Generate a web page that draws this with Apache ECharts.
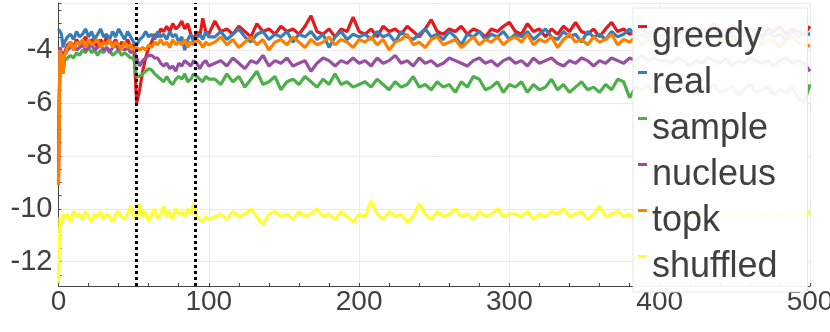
<!DOCTYPE html>
<html>
<head>
<meta charset="utf-8">
<script src="https://cdn.jsdelivr.net/npm/echarts@6/dist/echarts.min.js"></script>
<style>
  html, body { margin: 0; padding: 0; background: #fff; }
  #chart { width: 830px; height: 332px; }
</style>
</head>
<body>
<div id="chart"></div>
<script>
// x positions: 0..3, then every 2 up to 100, then every 4 up to 500
const steps = [0, 1, 2, 3]
for (let s = 4; s <= 100; s += 2) steps.push(s)
for (let s = 104; s <= 500; s += 4) steps.push(s)

const names = ['greedy', 'real', 'sample', 'nucleus', 'topk', 'shuffled']
const colors = ['#e41a1c', '#377eb8', '#4daf4a', '#984ea3', '#ff7f00', '#ffff33']
const markers = [52, 91]

const greedy = [
  -9.0, -3.9, -4.3, -4.8,
  -4.1, -3.8, -3.7, -3.9, -3.6, -3.8, -3.7, -3.5, -3.8, -3.6, -3.7, -3.9, -3.6, -3.8, -3.5, -3.7, -3.8, -3.6, -3.9, -3.7, -3.8, -3.6, -3.9, -3.8,
  -6.0, -5.5, -4.8, -4.3, -3.9, -3.7, -3.4, -3.5, -3.2, -3.3, -3.1, -3.3, -3.0, -3.2, -3.1, -2.9, -3.2, -3.0, -3.4, -3.6, -3.3, -3.5, -2.8, -3.3, -3.4,
  -2.9, -3.3, -3.2, -3.4, -3.1, -3.3, -3.5, -3.0, -3.3, -3.2, -3.4, -3.1, -3.3, -3.2, -3.4, -3.1, -2.7, -3.3, -3.4, -3.2, -3.5, -3.2, -3.3, -2.75, -3.3,
  -3.4, -3.2, -3.5, -3.1, -3.3, -3.2, -3.4, -3.1, -3.3, -3.5, -3.2, -2.85, -3.3, -3.4, -3.2, -3.3, -3.1, -3.4, -3.2, -3.3, -3.5, -3.2, -3.3, -3.1, -2.95,
  -3.3, -3.4, -3.0, -3.3, -3.2, -3.5, -3.2, -3.4, -3.1, -3.3, -2.95, -3.3, -3.4, -3.2, -3.5, -3.2, -2.95, -3.3, -3.2, -3.4, -3.3, -3.2, -3.4, -3.3, -3.2,
  -3.3, -3.1, -3.4, -3.2, -3.3, -3.5, -3.2, -3.3, -3.0, -3.4, -3.2, -3.3, -3.1, -3.4, -3.2, -3.3, -3.5, -3.2, -3.3, -3.1, -3.4, -3.2, -3.3, -3.4, -3.1
]
const real = [
  -3.2, -3.2, -3.4, -3.9,
  -3.7, -3.5, -3.4, -3.6, -3.3, -3.5, -3.4, -3.2, -3.5, -3.3, -3.6, -3.4, -3.2, -3.5, -3.4, -3.6, -3.3, -3.5, -3.2, -3.4, -3.6, -3.3, -3.5, -3.7,
  -3.8, -3.6, -3.5, -3.3, -3.5, -3.4, -3.6, -3.3, -3.5, -3.4, -3.6, -3.3, -3.5, -3.4, -3.7, -3.5, -4.0, -3.6, -3.4, -3.7, -3.5, -3.4, -3.6, -3.3, -3.5,
  -3.5, -3.3, -3.6, -3.4, -3.2, -3.5, -3.7, -3.4, -3.3, -3.6, -3.4, -3.5, -3.3, -3.7, -3.4, -3.5, -3.3, -3.6, -3.4, -3.9, -3.5, -3.3, -3.6, -3.4, -3.5,
  -3.4, -3.6, -3.3, -3.5, -3.4, -3.7, -3.3, -3.5, -3.6, -3.4, -3.2, -3.5, -3.4, -3.6, -3.3, -3.5, -3.8, -3.4, -3.5, -3.3, -3.6, -3.4, -3.5, -3.3, -3.6,
  -3.4, -3.5, -3.3, -3.6, -3.4, -3.2, -3.5, -3.6, -3.3, -3.5, -3.4, -3.7, -3.3, -3.5, -3.4, -3.6, -3.3, -3.5, -3.4, -3.2, -3.5, -3.4, -3.6, -3.3, -3.5,
  -3.4, -3.6, -3.3, -3.5, -3.4, -3.2, -3.5, -3.6, -3.4, -3.3, -3.5, -3.4, -3.7, -3.3, -3.5, -3.4, -3.6, -3.3, -3.5, -3.4, -3.6, -3.3, -3.5, -3.4, -3.4
]
const sample = [
  -7.6, -4.2, -4.5, -4.9,
  -4.4, -4.3, -4.2, -4.3, -4.1, -4.2, -4.0, -4.1, -3.9, -4.1, -4.0, -4.2, -4.0, -4.1, -3.9, -4.0, -4.2, -4.1, -4.0, -4.2, -4.1, -4.2, -4.3, -4.3,
  -5.0, -5.0, -4.9, -4.8, -4.7, -4.75, -4.9, -5.0, -5.1, -5.2, -5.0, -5.2, -5.3, -5.1, -5.0, -5.1, -4.9, -5.2, -5.1, -4.9, -5.0, -5.1, -5.2, -5.0, -5.1,
  -5.1, -5.3, -4.9, -5.2, -5.0, -5.4, -5.1, -4.8, -5.3, -5.2, -5.0, -5.5, -5.2, -5.1, -5.3, -5.0, -5.2, -5.4, -5.1, -5.3, -4.9, -5.3, -5.2, -5.4, -5.3,
  -5.2, -5.4, -5.1, -5.3, -5.5, -5.2, -5.4, -5.3, -5.0, -5.4, -5.3, -5.5, -5.2, -5.4, -5.3, -5.6, -5.2, -5.4, -5.0, -5.1, -5.5, -5.4, -5.2, -5.6, -5.3,
  -5.4, -5.2, -5.6, -5.3, -5.5, -5.4, -5.1, -5.5, -5.3, -5.6, -5.4, -5.2, -5.5, -5.4, -5.6, -5.3, -5.5, -5.1, -5.2, -5.8, -5.4, -5.5, -5.3, -5.7, -5.4,
  -5.5, -5.3, -5.6, -5.4, -5.5, -5.7, -5.4, -5.5, -5.3, -5.6, -5.5, -5.4, -5.7, -5.5, -5.3, -5.6, -5.5, -5.4, -5.7, -5.5, -5.6, -5.4, -5.8, -6.0, -5.3
]
const nucleus = [
  -8.2, -3.9, -4.1, -4.8,
  -4.2, -4.0, -3.9, -3.8, -4.0, -3.9, -3.8, -4.0, -3.9, -3.8, -4.0, -3.9, -3.8, -4.0, -3.9, -4.1, -3.9, -3.8, -4.0, -3.9, -4.0, -3.9, -4.1, -4.0,
  -4.3, -4.6, -4.4, -4.3, -4.2, -4.2, -4.3, -4.3, -4.5, -4.6, -4.5, -4.7, -4.6, -4.8, -4.5, -4.6, -4.4, -4.5, -4.6, -4.4, -4.5, -4.7, -4.5, -4.4, -4.6,
  -4.5, -4.4, -4.6, -4.3, -4.5, -4.7, -4.4, -4.5, -4.2, -4.6, -4.4, -4.5, -4.3, -4.6, -4.5, -4.4, -4.8, -4.5, -4.3, -4.4, -4.6, -4.4, -4.5, -4.3, -4.5,
  -4.4, -4.6, -4.3, -4.5, -4.4, -4.2, -4.5, -4.4, -4.6, -4.3, -4.5, -4.4, -4.6, -4.5, -4.3, -4.4, -4.5, -4.6, -4.4, -4.3, -4.5, -4.4, -4.6, -4.4, -4.3,
  -4.5, -4.4, -4.6, -4.3, -4.5, -4.4, -4.3, -4.5, -4.6, -4.4, -4.5, -4.3, -4.4, -4.6, -4.4, -4.5, -4.3, -4.4, -4.5, -4.3, -4.4, -4.2, -4.4, -4.3, -4.4,
  -4.4, -4.5, -4.3, -4.4, -4.6, -4.4, -4.5, -4.3, -4.4, -4.5, -4.3, -4.6, -4.4, -4.5, -4.3, -4.4, -4.5, -4.4, -4.6, -4.4, -4.3, -4.5, -4.4, -4.5, -4.8
]
const topk = [
  -9.1, -4.0, -4.3, -4.9,
  -4.2, -3.9, -3.7, -4.0, -3.7, -3.8, -3.6, -3.9, -3.6, -3.8, -3.7, -3.6, -3.9, -3.7, -3.8, -3.6, -3.9, -3.7, -3.8, -4.0, -3.7, -3.9, -3.8, -4.0,
  -3.9, -4.0, -3.9, -4.0, -3.8, -3.9, -3.7, -3.8, -3.6, -3.8, -3.7, -3.9, -3.6, -3.8, -3.7, -3.8, -3.6, -3.9, -3.7, -3.8, -3.6, -3.7, -3.9, -3.7, -3.8,
  -3.7, -3.5, -3.8, -3.6, -3.9, -3.7, -3.5, -3.8, -3.6, -4.0, -3.7, -3.6, -3.8, -3.5, -3.7, -3.9, -3.6, -3.8, -3.7, -3.5, -3.8, -3.6, -3.7, -3.9, -3.6,
  -3.7, -3.5, -3.8, -3.6, -4.0, -3.7, -3.6, -3.4, -3.8, -3.7, -3.9, -3.6, -3.5, -3.8, -3.7, -3.6, -3.9, -3.7, -3.5, -3.8, -3.6, -3.7, -3.5, -3.8, -3.6,
  -3.5, -3.7, -3.4, -3.8, -3.6, -3.7, -3.5, -3.9, -3.6, -3.4, -3.7, -3.6, -3.8, -3.5, -3.7, -3.6, -3.4, -3.8, -3.6, -3.7, -3.5, -3.8, -3.6, -3.7, -3.5,
  -3.6, -3.8, -3.5, -3.7, -3.6, -3.9, -3.6, -3.5, -3.8, -3.6, -3.7, -3.5, -3.8, -3.6, -3.7, -3.5, -3.8, -3.6, -3.7, -3.9, -3.6, -3.5, -3.7, -3.8, -3.85
]
const shuffled = [
  -12.8, -10.3, -10.6, -10.2,
  -10.4, -10.2, -10.5, -10.1, -10.3, -10.2, -10.4, -10.1, -10.3, -10.5, -10.2, -10.3, -10.1, -10.4, -10.2, -10.3, -10.5, -10.2, -10.1, -10.3, -10.4, -10.2, -9.9, -10.3,
  -10.4, -9.8, -10.3, -10.1, -10.5, -10.2, -10.0, -10.4, -10.2, -9.9, -10.3, -10.1, -10.4, -10.0, -10.2, -10.1, -10.3, -10.0, -10.2, -9.8, -10.3, -10.4, -10.5, -10.3, -10.4,
  -10.3, -10.2, -10.4, -10.1, -10.3, -10.2, -10.0, -10.3, -10.6, -10.2, -10.1, -10.3, -10.2, -10.4, -10.1, -10.3, -10.2, -10.0, -10.3, -10.2, -10.4, -10.1, -10.3, -10.5, -10.2,
  -10.3, -9.7, -10.2, -10.4, -10.1, -10.3, -10.2, -10.5, -10.3, -9.8, -10.2, -10.4, -10.1, -10.3, -10.2, -10.0, -10.3, -10.2, -10.4, -10.1, -10.3, -10.2, -10.0, -10.3, -10.2,
  -10.2, -10.3, -10.1, -10.4, -10.2, -10.3, -10.1, -10.2, -10.0, -10.3, -10.2, -10.1, -10.4, -10.2, -9.9, -10.3, -10.2, -10.1, -10.3, -10.2, -10.4, -10.2, -10.3, -10.1, -10.2,
  -10.2, -10.3, -10.1, -10.2, -10.4, -10.2, -10.3, -10.1, -10.2, -10.3, -10.1, -10.4, -10.2, -10.3, -10.1, -10.2, -10.3, -10.2, -10.1, -10.3, -10.2, -10.4, -10.2, -10.3, -10.1
]
const values = [greedy, real, sample, nucleus, topk, shuffled]

const textColor = '#404040'
const font = 'Liberation Sans'

const chart = echarts.init(document.getElementById('chart'), null, { renderer: 'canvas' })

const series = names.map((name, i) => ({
  name,
  type: 'line',
  data: steps.map((x, k) => [x, values[i][k]]),
  showSymbol: false,
  lineStyle: { width: 3.2, color: colors[i] },
  itemStyle: { color: colors[i] },
  emphasis: { disabled: true },
  silent: true
}))

// dotted black vertical markers, drawn on top of the last series
series[series.length - 1].markLine = {
  silent: true,
  symbol: ['none', 'none'],
  label: { show: false },
  lineStyle: { color: '#000', width: 3, type: [3, 3] },
  data: markers.map(x => ({ xAxis: x }))
}

chart.setOption({
  animation: false,
  grid: { left: 58.5, right: 20, top: 3, bottom: 46, outerBoundsMode: 'none' },
  xAxis: {
    type: 'value', min: 0, max: 500, interval: 100,
    axisLine: { lineStyle: { color: '#444', width: 1 } },
    axisTick: { show: true, inside: true, length: 3, lineStyle: { color: '#444' } },
    minorTick: { show: true, splitNumber: 5, length: 3, lineStyle: { color: '#444' } },
    axisLabel: { fontSize: 28, color: textColor, fontFamily: font, margin: 2 },
    splitLine: { show: true, lineStyle: { color: '#ebebeb', width: 1 } }
  },
  yAxis: {
    type: 'value', min: -12.92, max: -2.22,
    axisLine: { show: true, lineStyle: { color: '#444', width: 1 } },
    axisTick: { show: true, inside: true, length: 3, lineStyle: { color: '#444' } },
    minorTick: { show: true, splitNumber: 4, length: 3, lineStyle: { color: '#444' } },
    axisLabel: {
      fontSize: 29, color: textColor, fontFamily: font, margin: 6,
      showMinLabel: false, showMaxLabel: false
    },
    splitLine: { show: true, lineStyle: { color: '#ebebeb', width: 1 } }
  },
  legend: {
    orient: 'vertical',
    left: 633, top: 8,
    data: names,
    icon: 'path://M0,0H9V3H0Z M0,24H9V24.01H0Z',
    itemWidth: 9, itemHeight: 24, itemGap: 10,
    padding: [11, 30, 7, 5],
    backgroundColor: 'rgba(255,255,255,0.92)',
    borderColor: '#e6e6e6', borderWidth: 1,
    textStyle: { fontSize: 36, lineHeight: 35, color: textColor, fontFamily: font },
    selectedMode: false
  },
  series
})
</script>
</body>
</html>
